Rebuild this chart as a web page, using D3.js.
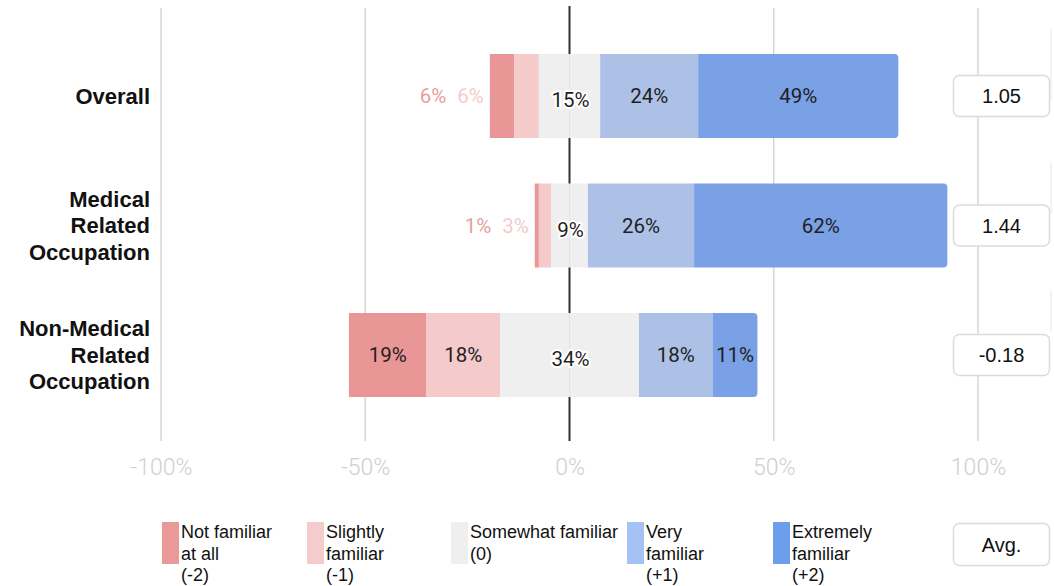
<!DOCTYPE html>
<html><head><meta charset="utf-8">
<script src="https://cdn.jsdelivr.net/npm/d3@7"></script>
<style>html,body{margin:0;padding:0;background:#fff;}svg{display:block;}</style>
</head><body>
<svg id="chart" width="1054" height="586"></svg>
<script>
const categories = ["Overall", "Medical Related Occupation", "Non-Medical Related Occupation"];
const categoryLines = [["Overall"], ["Medical", "Related", "Occupation"], ["Non-Medical", "Related", "Occupation"]];
const levels = ["Not familiar at all (-2)", "Slightly familiar (-1)", "Somewhat familiar (0)", "Very familiar (+1)", "Extremely familiar (+2)"];
const legendLines = [["Not familiar", "at all", "(-2)"], ["Slightly", "familiar", "(-1)"], ["Somewhat familiar", "(0)"], ["Very", "familiar", "(+1)"], ["Extremely", "familiar", "(+2)"]];
const notFamiliar = [6, 1, 19];
const slightlyFamiliar = [6, 3, 18];
const somewhatFamiliar = [15, 9, 34];
const veryFamiliar = [24, 26, 18];
const extremelyFamiliar = [49, 62, 11];
const averages = ["1.05", "1.44", "-0.18"];
const tickValues = [-1, -0.5, 0, 0.5, 1];
const tickLabels = ["-100%", "-50%", "0%", "50%", "100%"];

const barColors = ["#e99696", "#f4caca", "#efefef", "#adc1e6", "#7aa0e6"];
const legendColors = ["#ea9999", "#f4cccc", "#efefef", "#a4c2f4", "#6d9eeb"];
const outsideLabelColors = ["#e8a0a0", "#f2cccc"];

const svg = d3.select("#chart");
const x = d3.scaleLinear().domain([-1, 1]).range([161, 978]);
const y = d3.scalePoint().domain(categories).range([96, 355]);
const barH = 84;

const grid = svg.append("g");
tickValues.forEach(v => {
  grid.append("line").attr("x1", x(v)).attr("x2", x(v)).attr("y1", v === 0 ? 6 : 8).attr("y2", 441)
    .attr("stroke", v === 0 ? "#333" : "#d6d6d6").attr("stroke-width", v === 0 ? 2 : 1.5);
});
[[30, 100], [162, 214], [290, 332]].forEach(([a, b]) => {
  svg.append("line").attr("x1", 1051).attr("x2", 1051).attr("y1", a).attr("y2", b).attr("stroke", "#e8e8e8").attr("stroke-width", 1);
});

const axis = d3.axisBottom(x).tickValues(tickValues).tickFormat((d, i) => tickLabels[i]).tickSize(0);
const ax = svg.append("g").attr("transform", "translate(0,455)").call(axis);
ax.select(".domain").remove();
ax.selectAll("text").attr("font-family", "Roboto, sans-serif").attr("font-size", 23).attr("font-weight", 300)
  .attr("fill", "#cfcfcf").attr("dy", "0.36em").attr("y", 12);

const series = [notFamiliar, slightlyFamiliar, somewhatFamiliar, veryFamiliar, extremelyFamiliar];
const labelFont = 20.5;

const bars = svg.append("g");
const labels = svg.append("g");
categories.forEach((cat, ci) => {
  const vals = series.map(s => s[ci] / 100);
  const cy = y(cat);
  const top = cy - barH / 2;
  let start = -vals[0] - vals[1] - vals[2] / 2;
  const segs = [];
  let cur = start;
  vals.forEach((v, i) => { segs.push({ i, x0: cur, x1: cur + v, v }); cur += v; });
  segs.forEach(s => {
    const px0 = x(s.x0), px1 = x(s.x1);
    if (s.i === 2) {
      bars.append("rect").attr("x", px0).attr("y", top).attr("width", x(0) - px0 - 0.5).attr("height", barH).attr("fill", barColors[2]);
      bars.append("rect").attr("x", x(0) + 0.5).attr("y", top).attr("width", px1 - x(0) - 0.5).attr("height", barH).attr("fill", barColors[2]);
      bars.append("line").attr("x1", x(0)).attr("x2", x(0)).attr("y1", top).attr("y2", top + barH).attr("stroke", "#e4e4e4").attr("stroke-width", 1);
    } else if (s.i === 4) {
      const r = 4, w = px1 - px0;
      const p = `M${px0},${top}H${px0 + w - r}Q${px1},${top} ${px1},${top + r}V${top + barH - r}Q${px1},${top + barH} ${px1 - r},${top + barH}H${px0}Z`;
      bars.append("path").attr("d", p).attr("fill", barColors[4]);
    } else {
      bars.append("rect").attr("x", px0).attr("y", top).attr("width", px1 - px0).attr("height", barH).attr("fill", barColors[s.i]);
    }
  });
  let edge = x(start) - 6;
  [1, 0].forEach(idx => {
    const s = segs[idx];
    if ((x(s.x1) - x(s.x0)) < 30) {
      const t = labels.append("text").attr("x", edge).attr("y", cy).attr("dy", "0.36em").attr("text-anchor", "end")
        .attr("font-family", "Roboto, sans-serif").attr("font-size", labelFont).attr("fill", outsideLabelColors[idx]).text(Math.round(s.v * 100) + "%");
      edge -= t.node().getComputedTextLength() + 11;
    }
  });
  segs.forEach(s => {
    if ((x(s.x1) - x(s.x0)) < 30) return;
    const t = labels.append("text").attr("x", (x(s.x0) + x(s.x1)) / 2).attr("y", cy).attr("dy", "0.36em").attr("text-anchor", "middle")
      .attr("font-family", "Roboto, sans-serif").attr("font-size", labelFont).attr("fill", "#1f1f1f").text(Math.round(s.v * 100) + "%");
    if (s.i === 2) {
      t.attr("x", (x(s.x0) + x(s.x1)) / 2 + 1).attr("y", cy + 4).attr("stroke", "#fff").attr("stroke-width", 4)
        .attr("paint-order", "stroke").attr("stroke-linejoin", "round");
    }
  });
  const lines = categoryLines[ci];
  const lh = 26.5;
  lines.forEach((l, li) => {
    svg.append("text").attr("x", 150).attr("y", cy + (li - (lines.length - 1) / 2) * lh).attr("dy", "0.36em")
      .attr("text-anchor", "end").attr("font-family", "'Liberation Sans', Arial, sans-serif").attr("font-weight", "bold")
      .attr("font-size", 22).attr("fill", "#111").text(l);
  });
  svg.append("rect").attr("x", 953.5).attr("y", cy - 20.5).attr("width", 96).attr("height", 41).attr("rx", 6)
    .attr("fill", "#fff").attr("stroke", "#dcdcdc").attr("stroke-width", 1.5);
  svg.append("text").attr("x", 1001.5).attr("y", cy).attr("dy", "0.36em").attr("text-anchor", "middle")
    .attr("font-family", "'Liberation Sans', Arial, sans-serif").attr("font-size", 20).attr("fill", "#111").text(averages[ci]);
});

const legendX = [162, 307, 451, 627, 773];
levels.forEach((lv, i) => {
  svg.append("rect").attr("x", legendX[i]).attr("y", 522).attr("width", 17).attr("height", 42).attr("fill", legendColors[i]);
  legendLines[i].forEach((l, li) => {
    svg.append("text").attr("x", legendX[i] + 19).attr("y", 532 + li * 21.5).attr("dy", "0.36em")
      .attr("font-family", "'Liberation Sans', Arial, sans-serif").attr("font-size", 18).attr("fill", "#111").text(l);
  });
});
svg.append("rect").attr("x", 953.5).attr("y", 523.5).attr("width", 96).attr("height", 42).attr("rx", 6)
  .attr("fill", "#fff").attr("stroke", "#dcdcdc").attr("stroke-width", 1.5);
svg.append("text").attr("x", 1001.5).attr("y", 545).attr("dy", "0.36em").attr("text-anchor", "middle")
  .attr("font-family", "'Liberation Sans', Arial, sans-serif").attr("font-size", 20).attr("fill", "#111").text("Avg.");
</script>
</body></html>
